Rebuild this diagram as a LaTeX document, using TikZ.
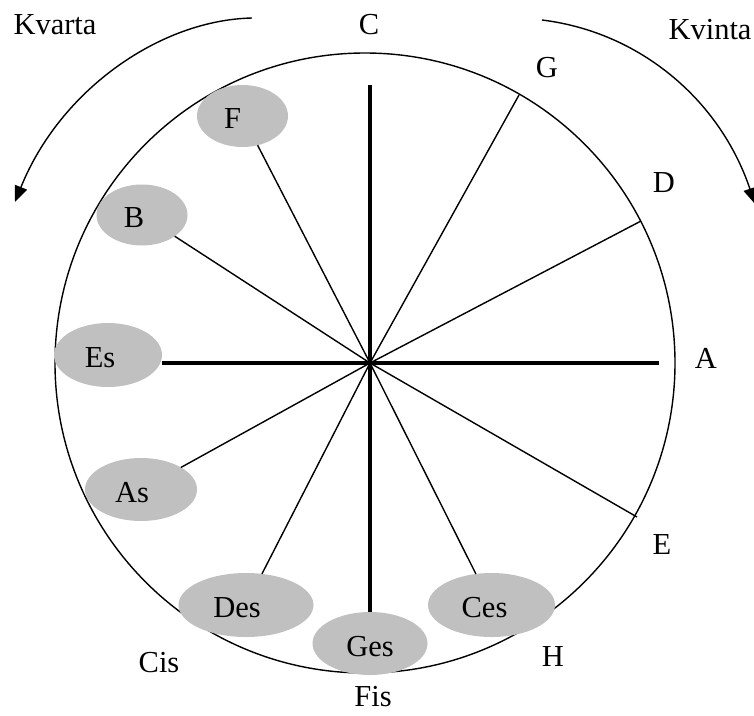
\documentclass[tikz,border=0pt]{standalone}
\usepackage{fontspec}
\setmainfont{Liberation Serif}
\usetikzlibrary{arrows.meta,shapes.geometric}
\definecolor{keygray}{RGB}{192,192,192}
\begin{document}
\begin{tikzpicture}[x=1pt,y=-1pt,
  every node/.style={font=\fontsize{30.5}{36}\selectfont, inner sep=0pt, outer sep=0pt},
  key/.style={ellipse, fill=keygray, draw=none},
  keytext/.style={yshift=-3pt},
  spoke/.style={line width=1.4pt},
  axisline/.style={line width=4.6pt},
  rim/.style={line width=1.4pt},
  turn/.style={line width=1.4pt, -{Triangle[length=16pt,width=13pt]}}]
\useasboundingbox (0,0) rectangle (754,715);

% wheel
\draw[rim] (365,363) circle[radius=310pt];

% centre and rim points
\coordinate (O) at (370,363);
\coordinate (top) at (370,85);
\coordinate (right) at (659,363);
\coordinate (g) at (519,95);
\coordinate (d) at (641,221);
\coordinate (e) at (637,517);

% grey keys
\node[key, minimum width=91pt, minimum height=62pt, label={[keytext,xshift=-10pt]center:F}] (F) at (242.5,116) {};
\node[key, minimum width=91pt, minimum height=61pt, label={[keytext,xshift=-8pt]center:B}] (B) at (142,215) {};
\node[key, minimum width=108pt, minimum height=64pt, label={[keytext,xshift=-8pt]center:Es}] (Es) at (108,355) {};
\node[key, minimum width=112pt, minimum height=63pt, label={[keytext,xshift=-9pt]center:As}] (As) at (141,489.5) {};
\node[key, minimum width=135pt, minimum height=64pt, label={[keytext,xshift=-9pt]center:Des}] (Des) at (246,605) {};
\node[key, minimum width=115pt, minimum height=63pt, label={[keytext,xshift=0pt]center:Ges}] (Ges) at (370,643.5) {};
\node[key, minimum width=127pt, minimum height=64pt, label={[keytext,xshift=-7pt]center:Ces}] (Ces) at (491.5,605) {};

% spokes
\draw[axisline] (top) -- (Ges.north);
\draw[axisline] (Es.east |- O) -- (right);
\draw[spoke] (O) -- (g);
\draw[spoke] (O) -- (d);
\draw[spoke] (O) -- (e);
\draw[spoke] (O) -- (Ces);
\draw[spoke] (O) -- (Des);
\draw[spoke] (O) -- (As);
\draw[spoke] (O) -- (B);
\draw[spoke] (O) -- (F);

% note names
\node (Clab) at (369,25) {C};
\node (Glab) at (547,68) {G};
\node (Dlab) at (664,183) {D};
\node (Alab) at (706,358) {A};
\node (Elab) at (662,545) {E};
\node (Hlab) at (553,657) {H};
\node (Fislab) at (373,697) {Fis};
\node (Cislab) at (159,663) {Cis};

% direction arrows
\node (kvarta) at (55,25) {Kvarta};
\node (kvinta) at (710,30) {Kvinta};
\coordinate (kvs) at (252,18);
\coordinate (kve) at (15,202);
\coordinate (kis) at (542,20);
\coordinate (kie) at (755,204);
\draw[turn] (kvs) .. controls (160,20) and (60,90) .. (kve);
\draw[turn] (kis) .. controls (640,32) and (720,100) .. (kie);
\end{tikzpicture}
\end{document}
